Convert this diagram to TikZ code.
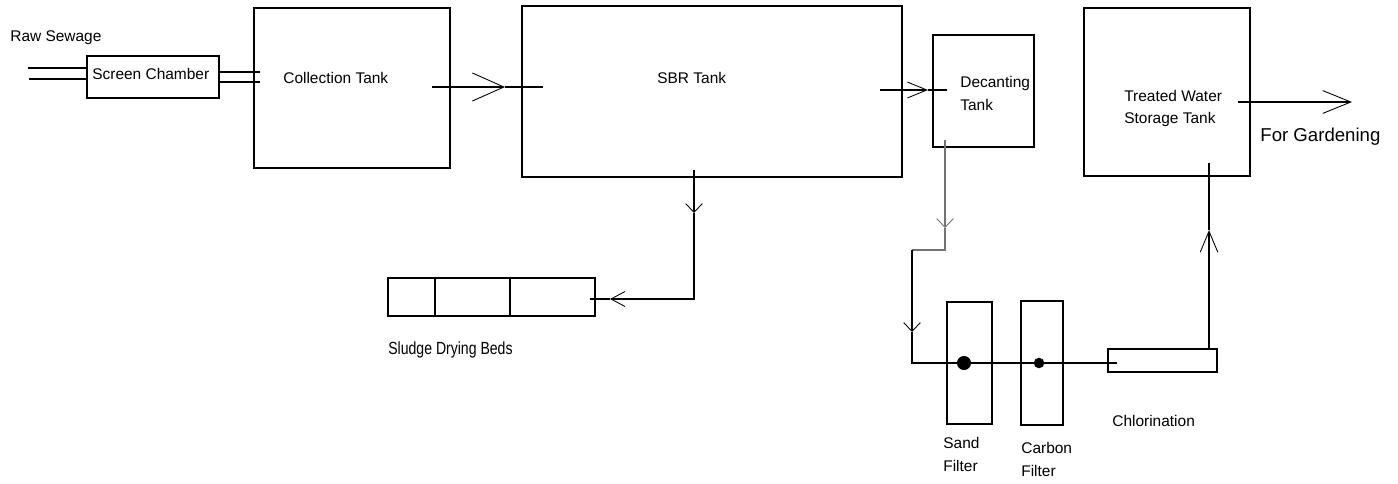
\documentclass[tikz,border=0pt]{standalone}
\usepackage{fontspec}
\setmainfont{Liberation Sans}
\newfontfamily\narrowsans[FakeStretch=0.8]{Liberation Sans}
\usetikzlibrary{arrows.meta,positioning,fit}

\begin{document}
\begin{tikzpicture}[x=0.02cm, y=-0.02cm,
  lbl/.style={font=\fontsize{8.8}{13}\selectfont, inner sep=0pt, align=left, anchor=west},
  box/.style={draw, line width=0.6pt, inner sep=0pt},
  pipe/.style={line width=0.6pt},
  dot/.style={circle, fill=black, inner sep=0pt, minimum size=#1},
  barbS/.tip={Straight Barb[length=5pt,width=9.5pt,line width=0.5pt]},
  barbM/.tip={Straight Barb[length=11pt,width=9pt,line width=0.5pt]},
  barbL/.tip={Straight Barb[length=18pt,width=16pt,line width=0.5pt]},
  barbO/.tip={Straight Barb[length=16pt,width=13pt,line width=0.5pt]},
  ]
\useasboundingbox (0,0) rectangle (1398,483);

% === tanks
\node[box, fit={(87,56) (219,98)}] (screen) {};
\node[box, fit={(254,8) (450,168)}] (coll) {};
\node[box, fit={(522,6) (902,177)}] (sbr) {};
\node[box, fit={(933,35) (1034,147)}] (decant) {};
\node[box, fit={(1084,8) (1250,176)}] (treated) {};
\node[box, fit={(388,278) (595,316)}] (beds) {};
\node[box, fit={(947,302) (992,424)}] (sand) {};
\node[box, fit={(1021,301) (1063,425)}] (carbon) {};
\node[box, fit={(1108,349) (1217,372)}] (chlor) {};
\draw[pipe] (435,278) -- (435,316);
\draw[pipe] (510,278) -- (510,316);

% === labels
\node[lbl] (rawtxt) at (10,38) {Raw Sewage};
\node[lbl] (screentxt) at (92,74) {Screen Chamber};
\node[lbl] (colltxt) at (283,78) {Collection Tank};
\node[lbl] (sbrtxt) at (657,78) {SBR Tank};
\node[lbl] (decanttxt) at (960,93.5) {Decanting\\Tank};
\node[lbl] (treatedtxt) at (1124,108.5) {Treated Water\\Storage Tank};
\node[lbl, font=\fontsize{10.6}{13}\selectfont] (gardtxt) at (1260,137) {For Gardening};
\node[lbl, font=\narrowsans\fontsize{10}{13}\selectfont] (bedstxt) at (388,350) {Sludge Drying Beds};
\node[lbl] (sandtxt) at (943,454.5) {Sand\\Filter};
\node[lbl] (carbontxt) at (1021,459.5) {Carbon\\Filter};
\node[lbl] (chlortxt) at (1112,421) {Chlorination};

% === raw sewage in, screen chamber to collection tank
\coordinate (in1) at (28,68);
\coordinate (in2) at (29,79);
\draw[pipe] (in1) -- (in1 -| screen.west);
\draw[pipe] (in2) -- (in2 -| screen.west);
\coordinate (sc1) at (219,72);
\coordinate (sc2) at (219,82);
\draw[pipe] (sc1) -- (260,72);
\draw[pipe] (sc2) -- (260,82);

% === collection tank to SBR tank
\coordinate (c1s) at (432,87);
\coordinate (c1t) at (505,87);
\coordinate (c1e) at (543,87);
\draw[pipe, -barbL] (c1s) -- (c1t);
\draw[pipe] (c1t) -- (c1e);

% === SBR tank to decanting tank
\coordinate (d1s) at (880,90);
\coordinate (d1t) at (928,90);
\coordinate (d1e) at (947,90);
\draw[pipe, -barbM] (d1s) -- (d1t);
\draw[pipe] (d1t) -- (d1e);

% === SBR tank to sludge drying beds
\coordinate (s1s) at (694,170);
\coordinate (s1t) at (694,213);
\coordinate (s1k) at (694,299);
\coordinate (s1u) at (610,299);
\coordinate (s1e) at (590,299);
\draw[pipe, -barbS] (s1s) -- (s1t);
\draw[pipe, -{Straight Barb[length=8pt,width=8.5pt,line width=0.5pt]}] (s1t) -- (s1k) -- (s1u);
\draw[pipe] (s1u) -- (s1e);

% === decanting tank to the filters
\coordinate (f1s) at (945,140);
\coordinate (f1t) at (945,228);
\coordinate (f1k) at (945,250);
\coordinate (f1j) at (912,250);
\coordinate (f1u) at (912,332);
\coordinate (f1b) at (912,363);
\coordinate (f1e) at (1117,363);
\draw[pipe, draw=black!55, -barbS] (f1s) -- (f1t);
\draw[pipe, draw=black!55] (f1t) -- (f1k) -- (f1j);
\draw[pipe, -barbS] (f1j) -- (f1u);
\draw[pipe] (f1u) -- (f1b) -- (f1e);
\node[dot=8pt] (sanddot) at (964,363) {};
\node[dot=6pt] (carbondot) at (1039,363) {};

% === chlorination up to treated water tank, then out
\coordinate (t1s) at (1209,349);
\coordinate (t1t) at (1209,230);
\coordinate (t1e) at (1209,163);
\draw[pipe, -{Straight Barb[length=12pt,width=10pt,line width=0.5pt]}] (t1s) -- (t1t);
\draw[pipe] (t1t) -- (t1e);
\coordinate (o1s) at (1238,102);
\coordinate (o1t) at (1352,102);
\draw[pipe, -barbO] (o1s) -- (o1t);

\end{tikzpicture}
\end{document}
